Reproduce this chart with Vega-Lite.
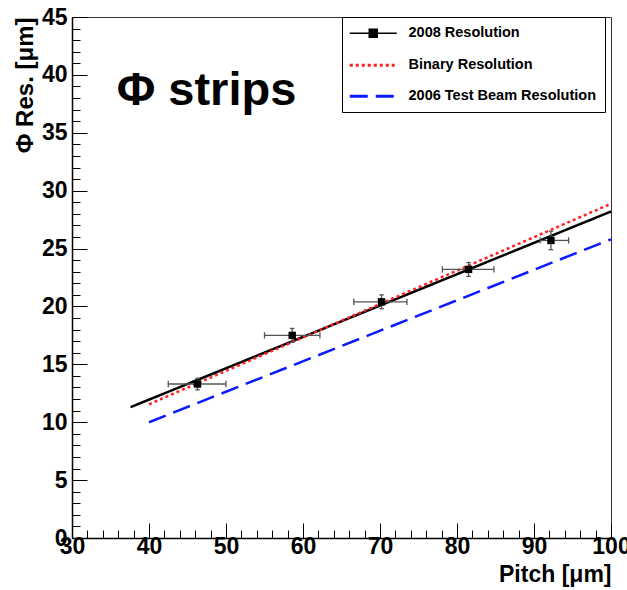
{
  "$schema": "https://vega.github.io/schema/vega-lite/v6.json",
  "width": 539,
  "height": 521,
  "autosize": {"type": "none"},
  "padding": {"left": 72, "top": 17, "right": 16, "bottom": 52},
  "background": "white",
  "config": {
    "view": {"stroke": "#333", "strokeWidth": 1},
    "font": "Liberation Sans"
  },
  "datasets": {
    "points": [
      {"pitch": 46.3, "res": 13.3, "xlo": 42.5, "xhi": 50.0, "ylo": 12.8, "yhi": 13.8},
      {"pitch": 58.6, "res": 17.5, "xlo": 55.0, "xhi": 62.2, "ylo": 16.9, "yhi": 18.1},
      {"pitch": 70.2, "res": 20.4, "xlo": 66.6, "xhi": 73.5, "ylo": 19.8, "yhi": 21.0},
      {"pitch": 81.5, "res": 23.2, "xlo": 78.1, "xhi": 84.8, "ylo": 22.6, "yhi": 23.8},
      {"pitch": 92.2, "res": 25.7, "xlo": 90.8, "xhi": 94.5, "ylo": 24.9, "yhi": 26.5}
    ],
    "fits": [
      {"series": "2008 Resolution", "pitch": 37.6, "res": 11.3},
      {"series": "2008 Resolution", "pitch": 100, "res": 28.2},
      {"series": "Binary Resolution", "pitch": 40, "res": 11.55},
      {"series": "Binary Resolution", "pitch": 100, "res": 28.87},
      {"series": "2006 Test Beam Resolution", "pitch": 40, "res": 10.0},
      {"series": "2006 Test Beam Resolution", "pitch": 100, "res": 25.8}
    ]
  },
  "layer": [
    {
      "data": {"name": "fits"},
      "mark": {"type": "line", "strokeWidth": 2.5},
      "encoding": {
        "x": {
          "field": "pitch", "type": "quantitative",
          "scale": {"domain": [30, 100], "nice": false, "zero": false},
          "axis": {
            "orient": "bottom",
            "values": [30, 40, 50, 60, 70, 80, 90, 100],
            "grid": false, "tickSize": -15, "tickColor": "black", "tickWidth": 1,
            "domainColor": "black", "domainWidth": 1.5,
            "labelFontSize": 23, "labelFontWeight": "bold", "labelColor": "black",
            "labelPadding": 12, "labelFlush": false, "labelOverlap": false,
            "title": "Pitch [μm]", "titleFontSize": 23, "titleFontWeight": "bold",
            "titleColor": "black", "titleAnchor": "end", "titlePadding": 5
          }
        },
        "y": {
          "field": "res", "type": "quantitative",
          "scale": {"domain": [0, 45], "nice": false, "zero": false},
          "axis": {
            "orient": "left",
            "values": [0, 5, 10, 15, 20, 25, 30, 35, 40, 45],
            "grid": false, "tickSize": -15, "tickColor": "black", "tickWidth": 1,
            "domainColor": "black", "domainWidth": 1.5,
            "labelFontSize": 23, "labelFontWeight": "bold", "labelColor": "black",
            "labelPadding": 20, "labelFlush": false, "labelOverlap": false,
            "title": "Φ Res. [μm]", "titleFontSize": 24, "titleFontWeight": "bold",
            "titleColor": "black", "titleAnchor": "end", "titlePadding": 4
          }
        },
        "color": {
          "field": "series", "type": "nominal",
          "scale": {
            "domain": ["2008 Resolution", "Binary Resolution", "2006 Test Beam Resolution"],
            "range": ["#000000", "#ff1f1f", "#0a1aff"]
          },
          "legend": {
            "orient": "none", "legendX": 270, "legendY": 0,
            "title": null, "fillColor": "white", "strokeColor": "black",
            "padding": 9, "rowPadding": 16,
            "labelFontSize": 14.5, "labelFontWeight": "bold", "labelColor": "black",
            "symbolOffset": 15, "labelOffset": 28, "labelLimit": 400,
            "symbolSize": 2209, "symbolStrokeWidth": 3,
            "encode": {
              "symbols": {
                "update": {
                  "shape": {"signal": "datum.value === '2008 Resolution' ? 'M-1,0H1M-0.17,-0.17H0.17V0.17H-0.17Z' : 'stroke'"},
                  "fill": {"signal": "datum.value === '2008 Resolution' ? 'black' : 'transparent'"},
                  "stroke": {"signal": "datum.value === '2008 Resolution' ? '#777777' : datum.value === 'Binary Resolution' ? '#ff1f1f' : '#0a1aff'"},
                  "strokeWidth": {"signal": "datum.value === '2008 Resolution' ? 1.5 : 3"}
                }
              }
            }
          }
        },
        "strokeDash": {
          "field": "series", "type": "nominal",
          "scale": {
            "domain": ["2008 Resolution", "Binary Resolution", "2006 Test Beam Resolution"],
            "range": [[1, 0], [3, 3], [18, 8]]
          }
        }
      }
    },
    {
      "data": {"name": "points"},
      "mark": {"type": "rule", "color": "#555555", "strokeWidth": 1.3},
      "encoding": {
        "x": {
          "field": "xlo", "type": "quantitative",
          "axis": {
            "orient": "bottom",
            "values": [32, 34, 36, 38, 42, 44, 46, 48, 52, 54, 56, 58, 62, 64, 66, 68, 72, 74, 76, 78, 82, 84, 86, 88, 92, 94, 96, 98],
            "grid": false, "tickSize": -8, "tickColor": "black", "tickWidth": 1,
            "domain": false, "labels": false, "title": null
          }
        },
        "x2": {"field": "xhi"},
        "y": {
          "field": "res", "type": "quantitative",
          "axis": {
            "orient": "left",
            "values": [1, 2, 3, 4, 6, 7, 8, 9, 11, 12, 13, 14, 16, 17, 18, 19, 21, 22, 23, 24, 26, 27, 28, 29, 31, 32, 33, 34, 36, 37, 38, 39, 41, 42, 43, 44],
            "grid": false, "tickSize": -8, "tickColor": "black", "tickWidth": 1,
            "domain": false, "labels": false, "title": null
          }
        }
      }
    },
    {
      "data": {"name": "points"},
      "mark": {"type": "rule", "color": "#555555", "strokeWidth": 1.3},
      "encoding": {
        "x": {"field": "pitch", "type": "quantitative", "axis": null},
        "y": {"field": "ylo", "type": "quantitative", "axis": null},
        "y2": {"field": "yhi"}
      }
    },
    {
      "data": {"name": "points"},
      "transform": [{"fold": ["xlo", "xhi"], "as": ["end", "xend"]}],
      "mark": {"type": "point", "shape": "M0,-1V1", "size": 40, "filled": false, "stroke": "#555555", "strokeWidth": 1.3, "opacity": 1},
      "encoding": {
        "x": {"field": "xend", "type": "quantitative", "axis": null},
        "y": {"field": "res", "type": "quantitative", "axis": null}
      }
    },
    {
      "data": {"name": "points"},
      "transform": [{"fold": ["ylo", "yhi"], "as": ["end", "yend"]}],
      "mark": {"type": "point", "shape": "M-1,0H1", "size": 20, "filled": false, "stroke": "#555555", "strokeWidth": 1.3, "opacity": 1},
      "encoding": {
        "x": {"field": "pitch", "type": "quantitative", "axis": null},
        "y": {"field": "yend", "type": "quantitative", "axis": null}
      }
    },
    {
      "data": {"name": "points"},
      "mark": {"type": "point", "shape": "square", "size": 55, "filled": true, "color": "black", "opacity": 1},
      "encoding": {
        "x": {"field": "pitch", "type": "quantitative", "axis": null},
        "y": {"field": "res", "type": "quantitative", "axis": null}
      }
    },
    {
      "data": {"values": [{"label": "Φ strips"}]},
      "mark": {"type": "text", "align": "left", "baseline": "alphabetic", "fontSize": 47, "fontWeight": "bold", "color": "black"},
      "encoding": {
        "x": {"datum": 35.8, "type": "quantitative", "axis": null},
        "y": {"datum": 37.4, "type": "quantitative", "axis": null},
        "text": {"field": "label"}
      }
    }
  ],
  "resolve": {"axis": {"x": "independent", "y": "independent"}}
}
